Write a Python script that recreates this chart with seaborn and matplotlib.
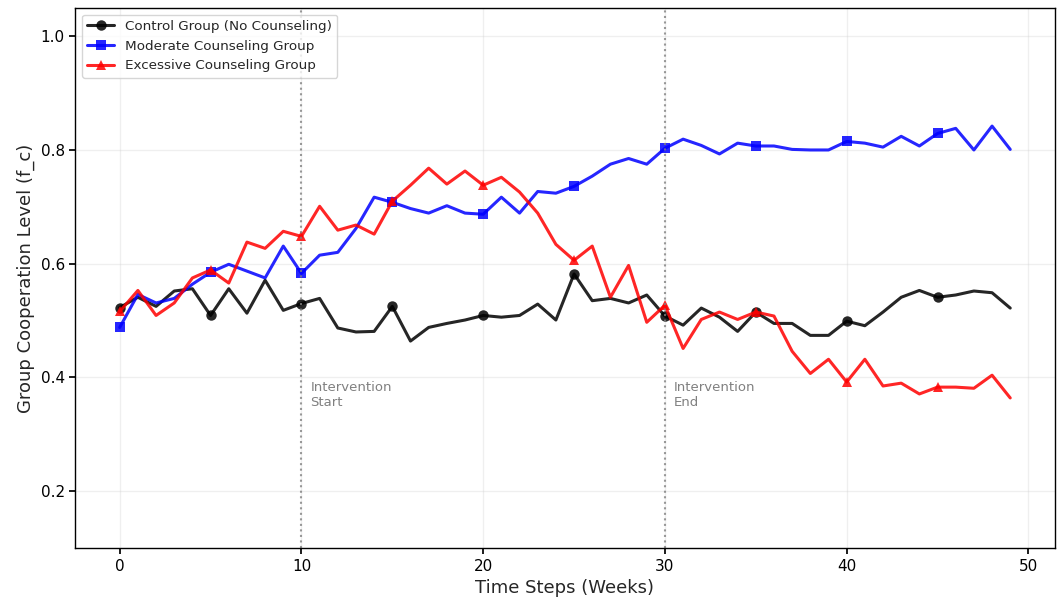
import matplotlib
matplotlib.use("Agg")
import matplotlib.pyplot as plt
import numpy as np
import seaborn as sns

weeks = np.arange(50)

control = [0.523, 0.541, 0.525, 0.552, 0.556, 0.509, 0.556, 0.513, 0.571, 0.518,
           0.530, 0.539, 0.487, 0.480, 0.481, 0.525, 0.464, 0.488, 0.495, 0.501,
           0.509, 0.506, 0.509, 0.529, 0.501, 0.582, 0.535, 0.539, 0.531, 0.545,
           0.508, 0.492, 0.522, 0.506, 0.481, 0.515, 0.495, 0.495, 0.474, 0.474,
           0.499, 0.491, 0.515, 0.541, 0.553, 0.541, 0.545, 0.552, 0.549, 0.522]

moderate = [0.488, 0.546, 0.531, 0.539, 0.564, 0.585, 0.599, 0.587, 0.575, 0.631,
            0.583, 0.615, 0.620, 0.662, 0.717, 0.708, 0.697, 0.689, 0.702, 0.689,
            0.687, 0.717, 0.689, 0.727, 0.724, 0.736, 0.754, 0.775, 0.785, 0.775,
            0.803, 0.819, 0.808, 0.793, 0.812, 0.807, 0.807, 0.801, 0.800, 0.800,
            0.815, 0.812, 0.805, 0.824, 0.807, 0.829, 0.838, 0.800, 0.842, 0.801]

excessive = [0.516, 0.553, 0.509, 0.531, 0.575, 0.589, 0.566, 0.638, 0.627, 0.657,
             0.648, 0.701, 0.659, 0.668, 0.652, 0.710, 0.738, 0.768, 0.740, 0.763,
             0.738, 0.752, 0.726, 0.689, 0.634, 0.606, 0.631, 0.541, 0.597, 0.497,
             0.527, 0.451, 0.502, 0.515, 0.502, 0.515, 0.508, 0.446, 0.407, 0.432,
             0.392, 0.432, 0.385, 0.390, 0.371, 0.383, 0.383, 0.381, 0.404, 0.364]

labels = ["Control Group (No Counseling)", "Moderate Counseling Group", "Excessive Counseling Group"]
series = [control, moderate, excessive]
colors = ["black", "blue", "red"]
markers = ["o", "s", "^"]

events = [10, 30]
event_texts = ["Intervention\nStart", "Intervention\nEnd"]

sns.set_theme(style="ticks")
plt.rcParams["font.family"] = ["DejaVu Sans"]

fig, ax = plt.subplots(figsize=(10.59, 5.99), dpi=100)
for vals, lab, c, m in zip(series, labels, colors, markers):
    sns.lineplot(x=weeks, y=vals, ax=ax, color=c, marker=m, markevery=5,
                 markersize=7.5, markeredgewidth=0, lw=2.2, alpha=0.85, label=lab)

for x, t in zip(events, event_texts):
    ax.axvline(x, color="gray", ls=":", lw=1.5, alpha=0.8)
    ax.text(x + 0.5, 0.345, t, color="gray", fontsize=9.5, va="bottom", ha="left")

ax.set_ylim(0.1, 1.05)
ax.set_yticks([0.2, 0.4, 0.6, 0.8, 1.0])
ax.grid(True, alpha=0.3)
for s in ax.spines.values():
    s.set_color("black")
    s.set_linewidth(1.0)
ax.tick_params(labelsize=11, colors="black", length=4)
ax.set_xlabel("Time Steps (Weeks)", fontsize=13)
ax.set_ylabel("Group Cooperation Level (f_c)", fontsize=13)
ax.legend(loc="upper left", fontsize=9.7, frameon=True, fancybox=True)
fig.subplots_adjust(left=0.071, right=0.996, top=0.987, bottom=0.085)
fig.savefig("out.png", dpi=100)
plt.close(fig)
